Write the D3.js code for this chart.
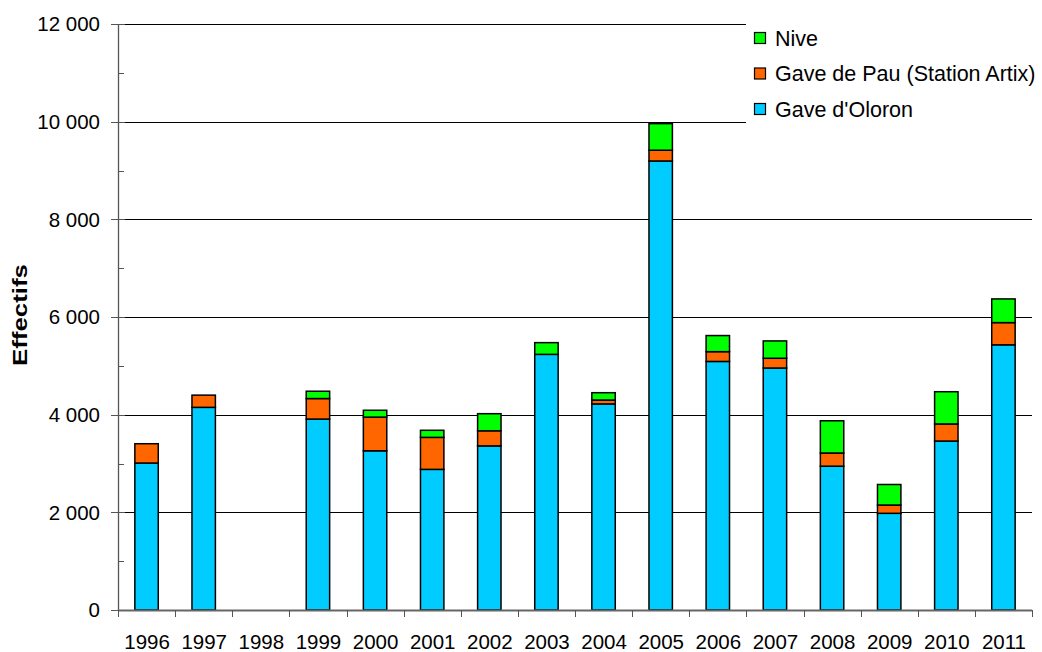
<!DOCTYPE html>
<html>
<head>
<meta charset="utf-8">
<script src="https://cdn.jsdelivr.net/npm/d3@7"></script>
<style>
  html, body { margin: 0; padding: 0; background: #fff; }
  svg { display: block; font-family: "Liberation Sans", Arial, sans-serif; }
</style>
</head>
<body>
<svg id="chart" width="1042" height="652"></svg>
<script>
// Annual counts per river (stacked bottom to top: Oloron, Pau, Nive)
const years = ["1996","1997","1998","1999","2000","2001","2002","2003","2004","2005","2006","2007","2008","2009","2010","2011"];
const oloron = [3010, 4150, 0, 3910, 3260, 2880, 3360, 5235, 4220, 9195, 5090, 4955, 2945, 1980, 3460, 5430];
const pau    = [ 395,  250, 0,  420,  690,  655,  310,    0,   80,  220,  200,  200,  270,  170,  350,  455];
const nive   = [   0,    0, 0,  150,  140,  145,  350,  240,  150,  545,  330,  355,  660,  420,  660,  485];
const seriesNames = ["Gave d'Oloron", "Gave de Pau (Station Artix)", "Nive"];
const seriesColors = ["#00ccff", "#ff6600", "#00ff00"];
const yTicks = [0, 2000, 4000, 6000, 8000, 10000, 12000];
const yMinorTicks = [1000, 3000, 5000, 7000, 9000, 11000];

const svg = d3.select("#chart");
const plotLeft = 118, plotRight = 1032, plotTop = 24, plotBottom = 610;

const x = d3.scaleBand().domain(years).range([plotLeft, plotRight]).paddingInner(0.59).paddingOuter(0.295);
const y = d3.scaleLinear().domain([0, 12000]).range([plotBottom, plotTop]);
const fmt = v => d3.format(",")(v).replace(/,/g, " ");

const rows = years.map((yr, i) => ({ year: yr, o: oloron[i], p: pau[i], n: nive[i] }));
const stack = d3.stack().keys(["o", "p", "n"])(rows);

// gridlines
svg.append("g").selectAll("line").data(yTicks.slice(1)).join("line")
  .attr("x1", plotLeft).attr("x2", plotRight)
  .attr("y1", d => Math.round(y(d)) + 0.5).attr("y2", d => Math.round(y(d)) + 0.5)
  .attr("stroke", "#000").attr("stroke-width", 1);

// bars
svg.append("g").selectAll("g").data(stack).join("g")
  .attr("fill", (d, i) => seriesColors[i])
  .selectAll("rect").data(d => d.filter(s => s[1] - s[0] > 0)).join("rect")
  .attr("x", d => x(d.data.year))
  .attr("width", x.bandwidth())
  .attr("y", d => y(d[1]))
  .attr("height", d => y(d[0]) - y(d[1]))
  .attr("stroke", "#000").attr("stroke-width", 1.5);

// y axis with major and minor ticks
const yAxis = svg.append("g");
yAxis.append("line").attr("x1", plotLeft + 0.5).attr("x2", plotLeft + 0.5).attr("y1", plotTop).attr("y2", plotBottom)
  .attr("stroke", "#555").attr("stroke-width", 1.3);
yAxis.selectAll("line.maj").data(yTicks).join("line").attr("class", "maj")
  .attr("x1", plotLeft - 7).attr("x2", plotLeft + 7)
  .attr("y1", d => Math.round(y(d)) + 0.5).attr("y2", d => Math.round(y(d)) + 0.5)
  .attr("stroke", "#555");
yAxis.selectAll("line.min").data(yMinorTicks).join("line").attr("class", "min")
  .attr("x1", plotLeft).attr("x2", plotLeft + 6)
  .attr("y1", d => Math.round(y(d)) + 0.5).attr("y2", d => Math.round(y(d)) + 0.5)
  .attr("stroke", "#555");
yAxis.selectAll("text").data(yTicks).join("text")
  .attr("x", 100).attr("y", d => y(d)).attr("dy", "0.36em")
  .attr("text-anchor", "end").attr("font-size", 20.5).attr("fill", "#000")
  .text(fmt);

svg.append("text")
  .attr("transform", `translate(26.5,${(plotTop + plotBottom) / 2 - 2}) rotate(-90)`)
  .attr("text-anchor", "middle").attr("font-size", 20).attr("font-weight", "bold")
  .attr("textLength", 102).attr("lengthAdjust", "spacingAndGlyphs")
  .text("Effectifs");

// x axis
const xAxis = svg.append("g");
xAxis.append("line").attr("x1", plotLeft).attr("x2", plotRight).attr("y1", plotBottom + 0.5).attr("y2", plotBottom + 0.5)
  .attr("stroke", "#666").attr("stroke-width", 2);
const boundaries = d3.range(years.length + 1).map(i => plotLeft + i * (plotRight - plotLeft) / years.length);
xAxis.selectAll("line.t").data(boundaries).join("line").attr("class", "t")
  .attr("x1", d => Math.round(d) + 0.5).attr("x2", d => Math.round(d) + 0.5)
  .attr("y1", plotBottom).attr("y2", plotBottom + 7).attr("stroke", "#555");
xAxis.selectAll("text").data(years).join("text")
  .attr("x", d => x(d) + x.bandwidth() / 2 + 0.5).attr("y", 649)
  .attr("text-anchor", "middle").attr("font-size", 20.5).text(d => d);

// legend (white background over the gridlines)
const legend = svg.append("g");
legend.append("rect").attr("x", 746).attr("y", 16).attr("width", 296).attr("height", 112).attr("fill", "#fff");
const legendItems = [2, 1, 0];
legendItems.forEach((si, k) => {
  const cy = 38 + k * 35.5;
  legend.append("rect").attr("x", 754.5).attr("y", cy - 5.5).attr("width", 11).attr("height", 11)
    .attr("fill", seriesColors[si]).attr("stroke", "#000").attr("stroke-width", 1.2);
  legend.append("text").attr("x", 775).attr("y", cy).attr("dy", "0.36em")
    .attr("font-size", 21.5).text(seriesNames[si]);
});
</script>
</body>
</html>
